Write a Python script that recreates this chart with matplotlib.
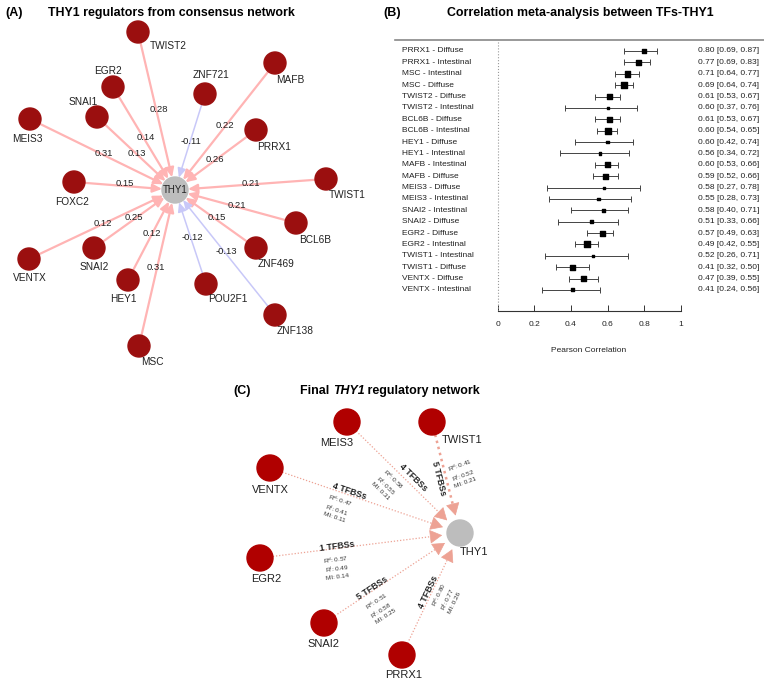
import numpy as np
import matplotlib.pyplot as plt
from matplotlib.patches import Circle

plt.rcParams['font.family'] = ['Liberation Sans', 'DejaVu Sans']
plt.rcParams['mathtext.default'] = 'regular'

# (A) consensus network: weight of each TF -> THY1 edge
a_tfs = ['TWIST2', 'EGR2', 'SNAI1', 'MEIS3', 'ZNF721', 'MAFB', 'PRRX1', 'TWIST1', 'FOXC2',
         'BCL6B', 'ZNF469', 'POU2F1', 'ZNF138', 'MSC', 'HEY1', 'SNAI2', 'VENTX']
a_weights = [0.28, 0.14, 0.13, 0.31, -0.11, 0.22, 0.26, 0.21, 0.15,
             0.21, 0.15, -0.12, -0.13, 0.31, 0.12, 0.25, 0.12]

# (B) correlation meta-analysis
b_labels = ['PRRX1 - Diffuse', 'PRRX1 - Intestinal', 'MSC - Intestinal', 'MSC - Diffuse',
            'TWIST2 - Diffuse', 'TWIST2 - Intestinal', 'BCL6B - Diffuse', 'BCL6B - Intestinal',
            'HEY1 - Diffuse', 'HEY1 - Intestinal', 'MAFB - Intestinal', 'MAFB - Diffuse',
            'MEIS3 - Diffuse', 'MEIS3 - Intestinal', 'SNAI2 - Intestinal', 'SNAI2 - Diffuse',
            'EGR2 - Diffuse', 'EGR2 - Intestinal', 'TWIST1 - Intestinal', 'TWIST1 - Diffuse',
            'VENTX - Diffuse', 'VENTX - Intestinal']
b_r = [0.80, 0.77, 0.71, 0.69, 0.61, 0.60, 0.61, 0.60, 0.60, 0.56, 0.60,
       0.59, 0.58, 0.55, 0.58, 0.51, 0.57, 0.49, 0.52, 0.41, 0.47, 0.41]
b_lo = [0.69, 0.69, 0.64, 0.64, 0.53, 0.37, 0.53, 0.54, 0.42, 0.34, 0.53,
        0.52, 0.27, 0.28, 0.40, 0.33, 0.49, 0.42, 0.26, 0.32, 0.39, 0.24]
b_hi = [0.87, 0.83, 0.77, 0.74, 0.67, 0.76, 0.67, 0.65, 0.74, 0.72, 0.66,
        0.66, 0.78, 0.73, 0.71, 0.66, 0.63, 0.55, 0.71, 0.50, 0.55, 0.56]
b_weight = [4.3, 5.3, 5.7, 6.3, 5.0, 2.0, 5.0, 6.0, 2.3, 2.3, 5.3,
            5.3, 2.0, 2.3, 3.3, 3.0, 5.0, 6.0, 2.3, 4.7, 4.7, 3.0]

# (C) final network
c_tfs = ['MEIS3', 'TWIST1', 'VENTX', 'EGR2', 'SNAI2', 'PRRX1']
c_tfbs = [4, 5, 4, 1, 5, 4]
c_rd = [0.58, 0.41, 0.47, 0.57, 0.51, 0.80]
c_ri = [0.55, 0.52, 0.41, 0.49, 0.58, 0.77]
c_mi = [0.31, 0.21, 0.11, 0.14, 0.25, 0.26]

# ---- layout (pixel coordinates) ----
a_center = (175, 190)
a_node_xy = {'TWIST2': (138, 32), 'EGR2': (113, 87), 'SNAI1': (97, 117), 'MEIS3': (30, 119),
             'ZNF721': (205, 94), 'MAFB': (275, 63), 'PRRX1': (256, 130), 'TWIST1': (326, 179),
             'FOXC2': (74, 182), 'BCL6B': (296, 223), 'ZNF469': (256, 248), 'POU2F1': (206, 284),
             'ZNF138': (275, 315), 'MSC': (139, 346), 'HEY1': (128, 280), 'SNAI2': (94, 248),
             'VENTX': (29, 259)}
a_label_xy = {'TWIST2': (168, 46), 'EGR2': (108, 71), 'SNAI1': (83, 102), 'MEIS3': (27, 139),
              'ZNF721': (211, 75), 'MAFB': (290, 80), 'PRRX1': (274, 147), 'TWIST1': (347, 195),
              'FOXC2': (72, 202), 'BCL6B': (315, 240), 'ZNF469': (276, 264), 'POU2F1': (228, 299),
              'ZNF138': (295, 331), 'MSC': (152, 362), 'HEY1': (123, 299), 'SNAI2': (94, 267),
              'VENTX': (30, 278)}
a_wlabel_xy = {'TWIST2': (159, 110), 'EGR2': (146, 138), 'SNAI1': (137, 153), 'MEIS3': (104, 153),
               'ZNF721': (191, 142), 'MAFB': (225, 126), 'PRRX1': (215, 159), 'TWIST1': (251, 183),
               'FOXC2': (125, 184), 'BCL6B': (237, 205), 'ZNF469': (217, 218), 'POU2F1': (192, 237),
               'ZNF138': (226, 252), 'MSC': (156, 268), 'HEY1': (152, 234), 'SNAI2': (134, 218),
               'VENTX': (103, 223)}

c_center = (460, 533)
c_node_xy = {'MEIS3': (347, 422), 'TWIST1': (432, 422), 'VENTX': (270, 468),
             'EGR2': (260, 558), 'SNAI2': (324, 623), 'PRRX1': (402, 655)}
c_label_xy = {'MEIS3': (337, 443), 'TWIST1': (462, 440), 'VENTX': (270, 490),
              'EGR2': (266, 579), 'SNAI2': (323, 644), 'PRRX1': (404, 675)}
c_tfbs_xy = {'MEIS3': (413, 478), 'TWIST1': (439, 478), 'VENTX': (349, 491),
             'EGR2': (337, 546), 'SNAI2': (372, 588), 'PRRX1': (428, 592)}
c_stat_xy = {'MEIS3': (388, 485), 'TWIST1': (463, 473), 'VENTX': (338, 508),
             'EGR2': (337, 567), 'SNAI2': (381, 608), 'PRRX1': (446, 598)}
c_stat_rot = {'TWIST1': 20}  # labels that do not follow their edge
c_lw = {'MEIS3': 0.9, 'TWIST1': 1.8, 'VENTX': 0.9, 'EGR2': 0.9, 'SNAI2': 0.9, 'PRRX1': 0.9}

W, H = 764, 682
fig = plt.figure(figsize=(W / 100, H / 100), dpi=100)
ax = fig.add_axes([0, 0, 1, 1])
ax.set_xlim(0, W)
ax.set_ylim(H, 0)
ax.axis('off')

PX = 0.72  # points per pixel

# ---------------- (A) ----------------
ax.text(5, 13, '(A)', fontsize=9, fontweight='bold', va='center')
ax.text(171, 13, 'THY1 regulators from consensus network', fontsize=8.9,
        fontweight='bold', va='center', ha='center')

for tf, w in zip(a_tfs, a_weights):
    col = '#ffb4b4' if w > 0 else '#c8c8f8'
    lw = 1.6 if w > 0 else 1.1
    ax.annotate('', xy=a_center, xytext=a_node_xy[tf],
                arrowprops=dict(arrowstyle='-|>,head_length=0.55,head_width=0.25',
                                color=col, lw=lw, shrinkA=11 * PX, shrinkB=13 * PX))
    ax.text(*a_wlabel_xy[tf], f'{w:.2f}', fontsize=6.8, ha='center', va='center', color='#222')
    ax.add_patch(Circle(a_node_xy[tf], 11, color='#9b0f0f', zorder=3))
    ax.text(*a_label_xy[tf], tf, fontsize=7.3, ha='center', va='center', color='#222')

ax.add_patch(Circle(a_center, 13, color='#bdbdbd', zorder=3))
ax.text(*a_center, 'THY1', fontsize=7, ha='center', va='center', color='#222', zorder=4)

# ---------------- (C) ----------------
ax.text(233, 391, '(C)', fontsize=9, fontweight='bold', va='center')
t1 = ax.text(300, 391, 'Final ', fontsize=8.9, fontweight='bold', va='center')
t2 = ax.annotate('THY1', xy=(1, 0), xycoords=t1, fontsize=8.9, fontweight='bold',
                 fontstyle='italic', va='bottom')
ax.annotate(' regulatory network', xy=(1, 0), xycoords=t2, fontsize=8.9,
            fontweight='bold', va='bottom')

edge_col = '#eda294'
for i, tf in enumerate(c_tfs):
    sx, sy = c_node_xy[tf]
    tx, ty = c_center
    d = np.hypot(tx - sx, ty - sy)
    ux, uy = (tx - sx) / d, (ty - sy) / d
    p0 = (sx + ux * 13, sy + uy * 13)
    p_tip = (tx - ux * 18, ty - uy * 18)
    p_base = (tx - ux * 26, ty - uy * 26)
    ax.plot([p0[0], p_base[0]], [p0[1], p_base[1]], ls=(0, (1, 1.5)),
            color=edge_col, lw=c_lw[tf], zorder=1)
    ax.annotate('', xy=p_tip, xytext=p_base,
                arrowprops=dict(arrowstyle='-|>,head_length=0.8,head_width=0.45',
                                color=edge_col, lw=0.5, shrinkA=0, shrinkB=0))
    ang = np.degrees(np.arctan2(-(ty - sy), tx - sx))
    ax.text(*c_tfbs_xy[tf], f'{c_tfbs[i]} TFBSs', fontsize=6.3, fontweight='bold',
            rotation=ang, rotation_mode='anchor', ha='center', va='center', color='#222')
    stats = f'R$^{{d}}$: {c_rd[i]:.2f}\nR$^{{I}}$: {c_ri[i]:.2f}\nMI: {c_mi[i]:.2f}'
    ax.text(*c_stat_xy[tf], stats, fontsize=4.6, rotation=c_stat_rot.get(tf, ang),
            rotation_mode='anchor', ha='center', va='center', color='#333',
            linespacing=1.1, multialignment='left')
    ax.add_patch(Circle((sx, sy), 13, color='#b00000', zorder=3))
    ax.text(*c_label_xy[tf], tf, fontsize=8, ha='center', va='center', color='#222')

ax.add_patch(Circle(c_center, 13, color='#bdbdbd', zorder=3))
ax.text(474, 552, 'THY1', fontsize=8, ha='center', va='center', color='#222')

# ---------------- (B) ----------------
ax.text(383, 13, '(B)', fontsize=9, fontweight='bold', va='center')
ax.text(580, 13, 'Correlation meta-analysis between TFs-THY1', fontsize=8.9,
        fontweight='bold', va='center', ha='center')

x0px, x1px = 497.7, 680.7
ppu = x1px - x0px
left_px, right_px, top_px, bot_px = 395, 764, 40, 311
row0, rowh = 51, 11.38
axb = fig.add_axes([left_px / W, 1 - bot_px / H, (right_px - left_px) / W, (bot_px - top_px) / H])
axb.patch.set_alpha(0)
axb.set_xlim((left_px - x0px) / ppu, (right_px - x0px) / ppu)
axb.set_ylim((bot_px - row0) / rowh, -(row0 - top_px) / rowh)

rows = np.arange(len(b_labels))
r = np.array(b_r)
err = np.vstack([r - np.array(b_lo), np.array(b_hi) - r])
axb.errorbar(r, rows, xerr=err, fmt='none', ecolor='#444', elinewidth=0.7,
             capsize=2.2, capthick=0.7)
axb.scatter(r, rows, marker='s', s=(np.array(b_weight) * PX) ** 2, color='black', zorder=3)
axb.axvline(0, ls=':', color='#999', lw=0.8)

xl = (402 - x0px) / ppu
xr = (759 - x0px) / ppu
for i, lab in enumerate(b_labels):
    axb.text(xl, i, lab, fontsize=6, va='center', ha='left', color='#222')
    axb.text(xr, i, f'{b_r[i]:.2f} [{b_lo[i]:.2f}, {b_hi[i]:.2f}]', fontsize=6,
             va='center', ha='right', color='#222')

for s in ['left', 'right']:
    axb.spines[s].set_visible(False)
axb.spines['top'].set_color('#888')
axb.spines['top'].set_linewidth(1.2)
axb.spines['bottom'].set_bounds(0, 1)
axb.spines['bottom'].set_color('#333')
axb.spines['bottom'].set_linewidth(0.8)
axb.set_yticks([])
axb.set_xticks([0, 0.2, 0.4, 0.6, 0.8, 1])
axb.set_xticklabels(['0', '0.2', '0.4', '0.6', '0.8', '1'])
axb.tick_params(axis='x', direction='in', length=4, width=0.7, color='#333',
                labelsize=6, pad=7, labelcolor='#222')
axb.set_xlabel('Pearson Correlation', fontsize=6, color='#222')
axb.xaxis.set_label_coords((589 - left_px) / (right_px - left_px), -36 / (bot_px - top_px))

fig.savefig('out.png', dpi=100)
